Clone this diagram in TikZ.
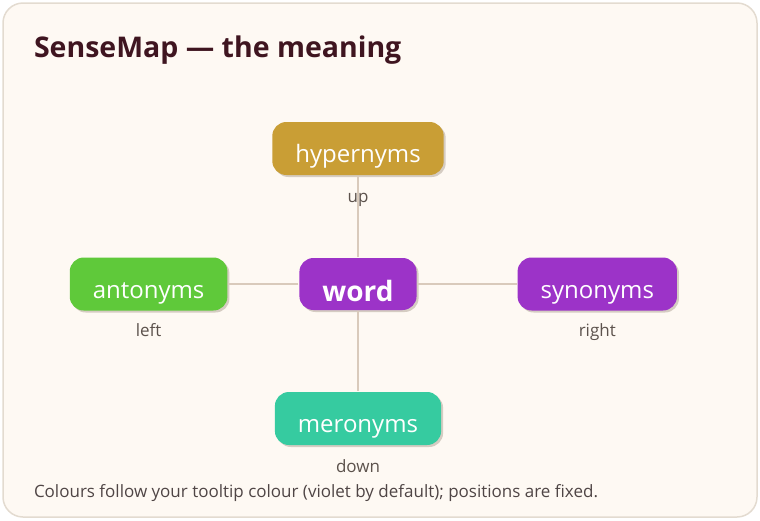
\documentclass[tikz,border=0pt]{standalone}
\usepackage{fontspec}
\setmainfont{Open Sans}
\usetikzlibrary{positioning,shadows}

\definecolor{paper}{HTML}{FEF9F3}
\definecolor{rim}{HTML}{E3DBD0}
\definecolor{ink}{HTML}{3F1520}
\definecolor{gold}{HTML}{C99E35}
\definecolor{violet}{HTML}{9C33C8}
\definecolor{leaf}{HTML}{5FC93A}
\definecolor{teal}{HTML}{36CBA0}
\definecolor{wire}{HTML}{D9CABB}
\definecolor{shade}{HTML}{D5CCC2}
\definecolor{tagc}{HTML}{5C524C}
\definecolor{notec}{HTML}{4F4545}

\begin{document}
\begin{tikzpicture}[x=1pt,y=1pt,line width=2pt]
  \tikzstyle{sense}=[rounded corners=14pt,minimum height=53pt,inner xsep=23pt,inner ysep=0pt,
                     text height=28pt,text depth=0pt,
                     text=white,font=\fontsize{24}{28}\selectfont,
                     drop shadow={shadow xshift=2pt,shadow yshift=-2pt,fill=shade,opacity=1}]
  \tikzstyle{tag}=[text=tagc,font=\fontsize{17}{20}\selectfont,inner sep=0pt]

  \useasboundingbox (0,0) rectangle (760,-520);
  \draw[rim,fill=paper,line width=1.5pt,rounded corners=20pt] (3,-3) rectangle (757,-517);

  \node[anchor=base west,inner sep=0pt,text=ink,
        font=\bfseries\fontsize{28.5}{33}\selectfont] (title) at (33,-57) {SenseMap — the meaning};

  \node[sense,fill=violet,minimum height=52pt,text height=35pt,
        font=\bfseries\fontsize{28}{33}\selectfont]
                             (word) at (358,-284)   {word};
  \node[sense,fill=gold]     (hyp)  [above=81pt of word]  {hypernyms};
  \node[sense,fill=teal]     (mer)  [below=80pt of word]  {meronyms};
  \node[sense,fill=leaf]     (ant)  [left=70pt of word]   {antonyms};
  \node[sense,fill=violet]   (syn)  [right=99pt of word]  {synonyms};

  \node[tag] (hypTag) [below=26pt of hyp,anchor=base] {up};
  \node[tag] (merTag) [below=26pt of mer,anchor=base] {down};
  \node[tag] (antTag) [below=25pt of ant,anchor=base] {left};
  \node[tag] (synTag) [below=25pt of syn,anchor=base] {right};

  \path[draw=wire,line width=2.5pt] (word) edge (hyp)
                                           edge (mer)
                                           edge (ant)
                                           edge (syn);

  \node[anchor=base west,inner sep=0pt,text=notec,font=\fontsize{17}{20}\selectfont]
       (note) at (33,-497) {Colours follow your tooltip colour (violet by default); positions are fixed.};
\end{tikzpicture}
\end{document}
